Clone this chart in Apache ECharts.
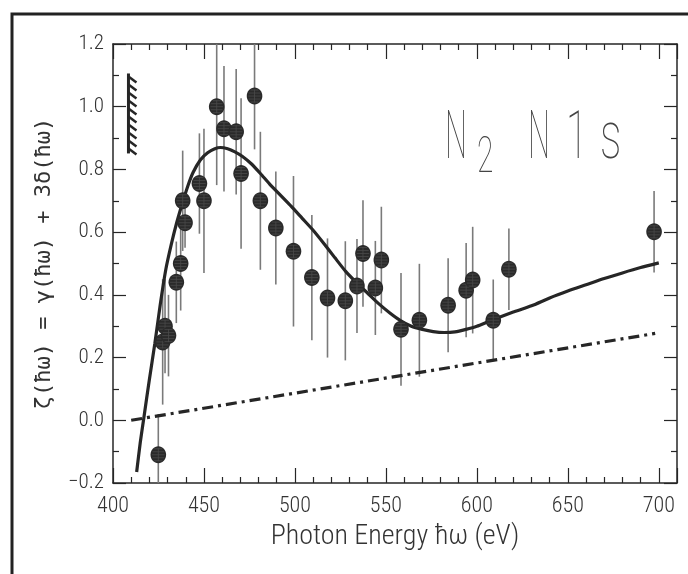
<!DOCTYPE html>
<html>
<head>
<meta charset="utf-8">
<script src="https://cdn.jsdelivr.net/npm/echarts@6/dist/echarts.min.js"></script>
<style>
  html, body { margin: 0; padding: 0; background: #fff; }
  #main { width: 688px; height: 574px; }
</style>
</head>
<body>
<div id="main"></div>
<script>
// measured points: photon energy (eV), zeta value, error half-width
var energy = [424.9, 427.3, 428.6, 430.5, 434.8, 437.2, 438.3, 439.6, 447.5, 450.0,
              457.0, 461.0, 467.7, 470.4, 477.8, 481.0, 489.5, 499.2, 509.3, 517.9,
              527.7, 534.1, 537.4, 544.2, 547.5, 558.3, 568.4, 584.2, 594.1, 597.7,
              609.0, 617.6, 697.4];
var zeta =   [-0.11, 0.25, 0.30, 0.27, 0.44, 0.50, 0.70, 0.63, 0.755, 0.70,
              1.00, 0.93, 0.92, 0.787, 1.034, 0.70, 0.613, 0.539, 0.455, 0.390,
              0.381, 0.428, 0.532, 0.422, 0.511, 0.290, 0.319, 0.367, 0.415, 0.447,
              0.319, 0.482, 0.601];
var zetaErr = [0.13, 0.20, 0.15, 0.13, 0.13, 0.15, 0.16, 0.08, 0.16, 0.23,
               0.25, 0.20, 0.20, 0.24, 0.17, 0.22, 0.18, 0.24, 0.20, 0.19,
               0.19, 0.15, 0.17, 0.15, 0.17, 0.18, 0.18, 0.15, 0.15, 0.17,
               0.13, 0.13, 0.13];

// theory curve (solid)
var curveX = [413, 415, 417, 420, 423, 426, 429, 432, 435, 438, 441, 444, 448, 452, 456, 459, 463, 467,
              471, 476, 481, 486, 492, 498, 504, 510, 516, 522, 528, 534, 540, 546, 552, 558, 564, 570,
              576, 582, 588, 594, 600, 606, 612, 620, 630, 640, 650, 660, 670, 680, 690, 700];
var curveY = [-0.165, -0.07, 0.01, 0.13, 0.245, 0.37, 0.48, 0.56, 0.63, 0.69, 0.745, 0.79, 0.83, 0.853, 0.866, 0.870, 0.866, 0.856,
              0.842, 0.818, 0.787, 0.754, 0.718, 0.682, 0.644, 0.606, 0.563, 0.518, 0.474, 0.438, 0.405, 0.372, 0.343, 0.318, 0.300, 0.290,
              0.283, 0.280, 0.282, 0.290, 0.300, 0.314, 0.328, 0.345, 0.365, 0.390, 0.412, 0.432, 0.452, 0.470, 0.487, 0.502];

// dash-dot line
var lineX = [410, 698];
var lineY = [0.0, 0.277];

// hatched limit mark (x, top, bottom)
var limitMark = [[408.5, 1.106, 0.851]];

var xTicks = [400, 450, 500, 550, 600, 650, 700];
var yTicks = [-0.2, 0.0, 0.2, 0.4, 0.6, 0.8, 1.0, 1.2];

function pairs(xs, ys) {
  return xs.map(function (x, i) { return [x, ys[i]]; });
}

var chart = echarts.init(document.getElementById('main'), null, { renderer: 'canvas' });

var ink = '#262626';
var tickFont = '"Roboto Condensed", "Liberation Sans Narrow", "DejaVu Sans Condensed", sans-serif';
var titleFont = '100 66px Roboto, "DejaVu Sans", sans-serif';

function axisCommon() {
  return {
    axisLine: { onZero: false, show: true, lineStyle: { color: ink, width: 1.5 } },
    splitLine: { show: false }
  };
}

var option = {
  animation: false,
  backgroundColor: '#fff',
  grid: { left: 113, top: 44, right: 11, bottom: 91 },
  xAxis: [Object.assign(axisCommon(), {
    type: 'value', min: 400, max: 710, interval: 50,
    axisTick: { inside: true, length: 15, lineStyle: { color: ink, width: 1.2 } },
    minorTick: { show: true, splitNumber: 5, length: 6, lineStyle: { color: ink, width: 1.2 } },
    axisLabel: {
      margin: 12, fontSize: 22, fontWeight: 300, color: '#333', fontFamily: tickFont,
      formatter: function (v) { return xTicks.indexOf(v) >= 0 ? String(v) : ''; }
    },
    name: 'Photon Energy ħω (eV)', nameLocation: 'middle', nameGap: 40,
    nameTextStyle: { fontSize: 28, fontWeight: 300, color: '#333', fontFamily: tickFont }
  }), Object.assign(axisCommon(), {
    type: 'value', min: 400, max: 710, interval: 50, position: 'top',
    axisTick: { inside: true, length: 15, lineStyle: { color: ink, width: 1.2 } },
    minorTick: { show: true, splitNumber: 5, length: 6, lineStyle: { color: ink, width: 1.2 } },
    axisLabel: { show: false }
  })],
  yAxis: [Object.assign(axisCommon(), {
    type: 'value', min: -0.2, max: 1.2, interval: 0.2,
    axisTick: { inside: true, length: 13, lineStyle: { color: ink, width: 1.2 } },
    minorTick: { show: true, splitNumber: 2, length: 6, lineStyle: { color: ink, width: 1.2 } },
    axisLabel: {
      margin: 9, fontSize: 21, fontWeight: 300, color: '#333', fontFamily: tickFont,
      formatter: function (v) { return v.toFixed(1).replace('-', '\u2212'); }
    },
    name: 'ζ(ħω) = γ(ħω) + 3δ(ħω)', nameLocation: 'middle', nameGap: 58, nameRotate: 90,
    nameTextStyle: { fontSize: 22, color: '#333', fontFamily: '"DejaVu Sans Mono", monospace' }
  }), Object.assign(axisCommon(), {
    type: 'value', min: -0.2, max: 1.2, interval: 0.2, position: 'right',
    axisTick: { inside: true, length: 13, lineStyle: { color: ink, width: 1.2 } },
    minorTick: { show: true, splitNumber: 2, length: 6, lineStyle: { color: ink, width: 1.2 } },
    axisLabel: { show: false }
  })],
  graphic: [
    { type: 'rect', shape: { x: 12, y: 14, width: 700, height: 600 }, style: { fill: 'none', stroke: '#222', lineWidth: 3 }, silent: true },
    { type: 'text', x: 445, y: 108, scaleX: 0.47, style: { text: 'N', font: titleFont, fill: '#444' } },
    { type: 'text', x: 477, y: 134, scaleX: 0.6, style: { text: '2', font: '100 50px Roboto, "DejaVu Sans", sans-serif', fill: '#444' } },
    { type: 'text', x: 528, y: 108, scaleX: 0.47, style: { text: 'N', font: titleFont, fill: '#444' } },
    { type: 'text', x: 566, y: 108, scaleX: 0.6, style: { text: '1', font: titleFont, fill: '#444' } },
    { type: 'text', x: 600, y: 108, scaleX: 0.65, style: { text: 's', font: titleFont, fill: '#444' } }
  ],
  series: [
    {
      name: 'limit', type: 'custom', xAxisIndex: 0, yAxisIndex: 0,
      data: limitMark, silent: true,
      renderItem: function (params, api) {
        var top = api.coord([api.value(0), api.value(1)]);
        var bot = api.coord([api.value(0), api.value(2)]);
        var children = [{
          type: 'line', shape: { x1: top[0], y1: top[1], x2: bot[0], y2: bot[1] },
          style: { stroke: ink, lineWidth: 3 }
        }];
        for (var y = top[1] + 3; y < bot[1]; y += 8) {
          children.push({
            type: 'line', shape: { x1: top[0], y1: y, x2: top[0] + 8, y2: y + 6 },
            style: { stroke: ink, lineWidth: 2.5 }
          });
        }
        return { type: 'group', children: children };
      }
    },
    {
      name: 'errors', type: 'custom', xAxisIndex: 0, yAxisIndex: 0, silent: true, clip: true,
      data: energy.map(function (x, i) { return [x, zeta[i] - zetaErr[i], zeta[i] + zetaErr[i]]; }),
      renderItem: function (params, api) {
        var lo = api.coord([api.value(0), api.value(1)]);
        var hi = api.coord([api.value(0), api.value(2)]);
        return {
          type: 'line', shape: { x1: lo[0], y1: lo[1], x2: hi[0], y2: hi[1] },
          style: { stroke: '#7a7a7a', lineWidth: 1.6 }
        };
      },
      z: 2
    },
    {
      name: 'dashdot', type: 'line', data: pairs(lineX, lineY), showSymbol: false, silent: true,
      lineStyle: { color: ink, width: 3.2, type: [11, 5, 3, 5] }, z: 3
    },
    {
      name: 'theory', type: 'line', data: pairs(curveX, curveY), showSymbol: false,
      smooth: 0.2, silent: true,
      lineStyle: { color: ink, width: 3.2 }, z: 4
    },
    {
      name: 'data', type: 'custom', xAxisIndex: 0, yAxisIndex: 0, silent: true,
      data: pairs(energy, zeta),
      renderItem: function (params, api) {
        var c = api.coord([api.value(0), api.value(1)]);
        var rx = 7.8, ry = 8.5;
        var kids = [{ type: 'ellipse', shape: { cx: c[0], cy: c[1], rx: rx, ry: ry }, style: { fill: '#2a2a2a' } }];
        for (var k = -2; k <= 2; k++) {
          var dy = k * 3;
          var half = rx * Math.sqrt(Math.max(0, 1 - (dy * dy) / (ry * ry))) - 1.5;
          kids.push({ type: 'line', shape: { x1: c[0] - half, y1: c[1] + dy, x2: c[0] + half, y2: c[1] + dy }, style: { stroke: '#4a4a4a', lineWidth: 0.8 } });
        }
        kids.push({ type: 'line', shape: { x1: c[0], y1: c[1] - ry + 2, x2: c[0], y2: c[1] + ry - 2 }, style: { stroke: '#4a4a4a', lineWidth: 0.8 } });
        return { type: 'group', children: kids };
      },
      z: 5
    }
  ]
};

chart.setOption(option);
</script>
</body>
</html>
